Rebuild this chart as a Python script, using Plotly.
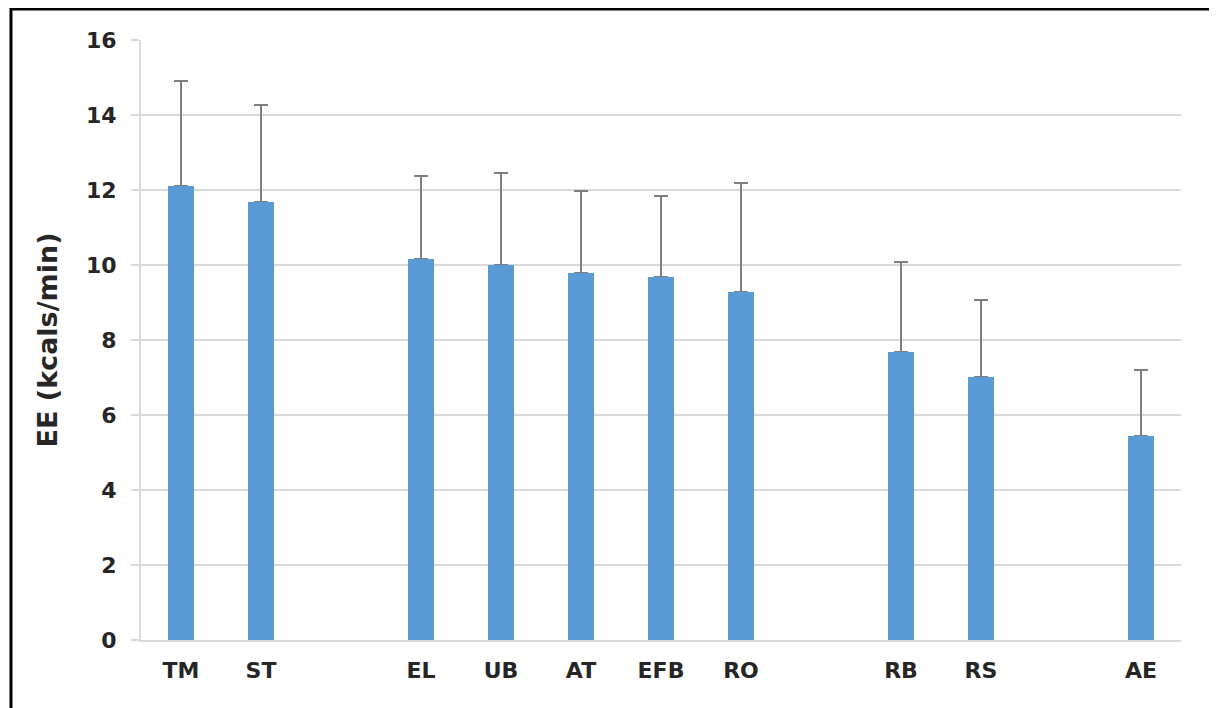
import plotly.graph_objects as go

categories = ["TM", "ST", "EL", "UB", "AT", "EFB", "RO", "RB", "RS", "AE"]
slots = [0, 1, 3, 4, 5, 6, 7, 9, 10, 12]
means = [12.1, 11.67, 10.16, 10.0, 9.79, 9.68, 9.28, 7.68, 7.01, 5.43]
upper = [14.9, 14.27, 12.37, 12.45, 11.97, 11.84, 12.19, 10.08, 9.07, 7.2]
err_plus = [round(u - m, 2) for u, m in zip(upper, means)]
y_ticks = [0, 2, 4, 6, 8, 10, 12, 14, 16]

FONT = "DejaVu Sans"
TXT = "#262626"
BAR = "#5B9BD5"

# page body has an 8px margin; plot area target in page px: x 141-1181, y 40-640
L, T = 133, 32
PW, PH = 1040, 600

fig = go.Figure()
# bars carrying the (upper-only) error bars
fig.add_trace(go.Bar(
    x=slots, y=means, width=0.32,
    marker=dict(color=BAR, line=dict(width=0)),
    error_y=dict(type="data", array=err_plus, symmetric=False, arrayminus=[0] * len(means),
                 color="#7F7F7F", thickness=2, width=7),
))
# same bars drawn again on top to hide the lower cap at the bar top
fig.add_trace(go.Bar(
    x=slots, y=means, width=0.32,
    marker=dict(color=BAR, line=dict(width=0)),
))

fig.update_layout(
    width=1217, height=708,
    margin=dict(l=L, r=1217 - L - PW, t=T, b=708 - T - PH, autoexpand=False),
    paper_bgcolor="white", plot_bgcolor="white",
    showlegend=False,
    barmode="overlay",
    bargap=0,
    font=dict(family=FONT, color=TXT),
    xaxis=dict(
        range=[-0.5, 12.5], tickvals=slots, ticktext=categories,
        showgrid=False, zeroline=False, showline=True, linecolor="#D9D9D9", linewidth=2,
        ticks="", tickfont=dict(family=FONT, size=22, weight="bold", color=TXT),
        ticklabelstandoff=10,
    ),
    yaxis=dict(
        range=[0, 16], tickvals=y_ticks,
        showgrid=True, gridcolor="#D9D9D9", gridwidth=2,
        zeroline=False, showline=True, linecolor="#D9D9D9", linewidth=2,
        ticks="outside", ticklen=8, tickcolor="#D9D9D9", tickwidth=2,
        tickfont=dict(family=FONT, size=22, weight="bold", color=TXT),
        ticklabelstandoff=10,
        title=dict(text="EE (kcals/min)", font=dict(family=FONT, size=27, weight="bold", color=TXT), standoff=21),
    ),
)

fig.add_shape(type="rect", xref="paper", yref="paper",
              x0=(3 - L) / PW, x1=(1204 - L) / PW,
              y0=(T + PH - 760) / PH, y1=(T + PH - 1) / PH,
              line=dict(color="black", width=3), fillcolor="rgba(0,0,0,0)", layer="above")

fig.write_html("out.html")
